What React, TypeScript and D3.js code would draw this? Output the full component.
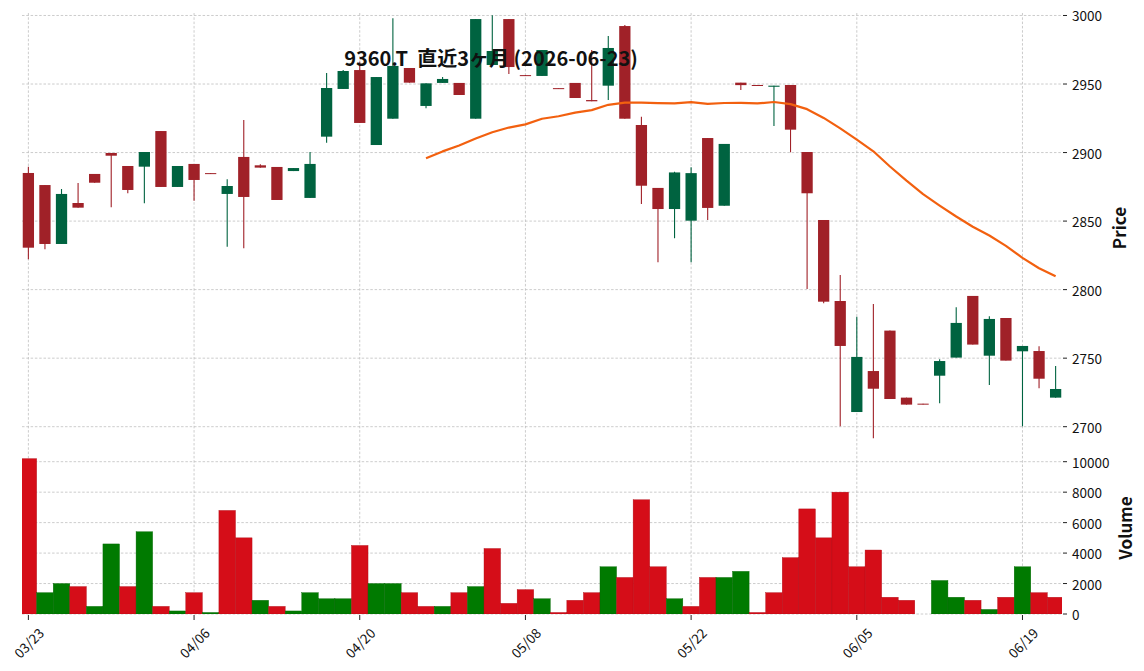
import React from 'react';
import * as d3 from 'd3';

const tickLabels = ['03/23', '04/06', '04/20', '05/08', '05/22', '06/05', '06/19'];
const tickIndex = [0, 10, 20, 30, 40, 50, 60];

const opens = [
  2885.1, 2876.3, 2833.3, 2863.2, 2884.4, 2899.7, 2890.2, 2889.7, 2915.7, 2874.9,
  2891.7, 2885.0, 2869.8, 2896.8, 2890.7, 2889.5, 2886.5, 2866.9, 2911.6, 2946.4,
  2960.2, 2905.5, 2924.7, 2961.7, 2934.0, 2950.8, 2950.8, 2924.7, 2963.9, 2997.4,
  2956.5, 2955.9, 2947.0, 2950.8, 2938.3, 2948.8, 2992.3, 2920.1, 2874.2, 2858.8,
  2850.3, 2910.6, 2861.2, 2951.0, 2949.3, 2948.0, 2949.3, 2900.4, 2850.8, 2791.7,
  2710.7, 2740.6, 2770.1, 2721.2, 2716.8, 2737.2, 2750.4, 2795.4, 2751.8, 2779.3,
  2755.0, 2755.2, 2721.2,
];
const highs = [
  2889.7, 2876.3, 2873.4, 2877.8, 2884.4, 2899.7, 2890.2, 2900.4, 2915.7, 2890.2,
  2891.7, 2885.0, 2880.5, 2923.8, 2891.4, 2889.5, 2888.7, 2900.4, 2958.0, 2960.2,
  2966.3, 2955.1, 2998.0, 2961.7, 2950.5, 2955.1, 2950.8, 2997.4, 3000.1, 2997.4,
  2956.5, 2974.8, 2947.0, 2950.8, 2974.8, 2985.0, 2993.1, 2926.2, 2874.2, 2886.0,
  2889.3, 2910.6, 2906.3, 2951.0, 2949.3, 2948.8, 2949.3, 2900.4, 2850.8, 2810.7,
  2780.3, 2789.5, 2770.1, 2721.2, 2716.8, 2749.2, 2787.1, 2795.4, 2780.5, 2779.3,
  2758.9, 2758.6, 2744.3,
];
const lows = [
  2822.1, 2829.4, 2833.3, 2859.8, 2878.0, 2860.1, 2870.3, 2863.0, 2874.9, 2874.9,
  2864.9, 2884.5, 2831.3, 2830.2, 2889.0, 2865.4, 2886.5, 2866.9, 2907.2, 2946.4,
  2921.6, 2905.5, 2924.7, 2951.0, 2932.3, 2950.8, 2942.0, 2924.7, 2963.9, 2957.3,
  2955.8, 2955.9, 2946.5, 2939.8, 2937.4, 2938.4, 2924.7, 2862.5, 2819.9, 2837.5,
  2819.9, 2850.8, 2861.2, 2945.6, 2949.0, 2919.4, 2900.2, 2800.5, 2790.0, 2700.3,
  2710.7, 2691.6, 2720.2, 2716.1, 2716.1, 2717.1, 2750.4, 2759.9, 2730.4, 2748.2,
  2700.3, 2728.0, 2721.2,
];
const closes = [
  2830.6, 2833.3, 2869.8, 2859.8, 2878.0, 2897.7, 2872.7, 2900.4, 2874.9, 2890.2,
  2880.0, 2884.5, 2875.6, 2867.6, 2889.0, 2865.4, 2888.7, 2891.7, 2947.1, 2959.5,
  2921.6, 2955.1, 2963.2, 2951.0, 2950.5, 2953.7, 2942.0, 2997.4, 2974.1, 2962.4,
  2955.8, 2974.8, 2946.5, 2939.8, 2937.4, 2976.3, 2924.7, 2875.8, 2858.8, 2885.5,
  2885.0, 2859.6, 2906.3, 2949.2, 2949.0, 2948.8, 2916.7, 2870.3, 2791.2, 2758.9,
  2750.9, 2727.7, 2720.2, 2716.1, 2716.1, 2747.9, 2775.7, 2759.9, 2778.6, 2748.2,
  2758.9, 2735.0, 2727.5,
];
const volumes = [
  10200, 1400, 2000, 1800, 500, 4600, 1800, 5400, 500, 200,
  1400, 100, 6800, 5000, 900, 500, 200, 1400, 1000, 1000,
  4500, 2000, 2000, 1400, 500, 500, 1400, 1800, 4300, 700,
  1600, 1000, 100, 900, 1400, 3100, 2400, 7500, 3100, 1000,
  500, 2400, 2400, 2800, 100, 1400, 3700, 6900, 5000, 8000,
  3100, 4200, 1100, 900, 0, 2200, 1100, 900, 300, 1100,
  3100, 1400, 1100,
];
const priceTicks = [2700, 2750, 2800, 2850, 2900, 2950, 3000];
const volumeTicks = [0, 2000, 4000, 6000, 8000, 10000];
const MAV = 25;

const FONT = '"Noto Sans CJK JP", "Noto Sans", sans-serif';
const UP = '#006340';
const DOWN = '#A02128';
const VUP = '#007a00';
const VDOWN = '#d50d18';
const GRID = '#bfbfbf';

export default function App() {
  const W = 1144, H = 671;
  const left = 22, right = 1062;
  const pTop = 13, pBottom = 443, vTop = 443, vBottom = 614;
  const n = closes.length;
  const x = d3.scaleLinear().domain([-0.385, n - 1 + 0.385]).range([left, right]);
  const yP = d3.scaleLinear().domain([2688.1, 3001.82]).range([pBottom, pTop]);
  const yV = d3.scaleLinear().domain([0, 11228]).range([vBottom, vTop]);
  const step = x(1) - x(0);
  const bodyW = step * 0.68;

  const ma: [number, number][] = [];
  for (let i = MAV - 1; i < n; i++) {
    const m = d3.mean(closes.slice(i - MAV + 1, i + 1)) as number;
    ma.push([i, m]);
  }
  const maLine = d3.line<[number, number]>().x(d => x(d[0])).y(d => yP(d[1]))(ma) || '';

  const volColor = (i: number) => {
    const ref = i === 0 ? opens[0] : closes[i - 1];
    return closes[i] >= ref ? VUP : VDOWN;
  };

  return (
    <svg width={W} height={H} style={{ position: 'absolute', left: 0, top: 0, background: '#fff' }} fontFamily={FONT}>
      <defs>
        <clipPath id="pclip"><rect x={left} y={pTop} width={right - left} height={pBottom - pTop} /></clipPath>
        <clipPath id="vclip"><rect x={left} y={vTop} width={right - left} height={vBottom - vTop} /></clipPath>
      </defs>
      <g stroke={GRID} strokeWidth={0.8} strokeDasharray="2.5,1.8">
        {tickIndex.map(i => (
          <line key={'vg' + i} x1={x(i)} x2={x(i)} y1={pTop} y2={vBottom} />
        ))}
        {priceTicks.map(p => (
          <line key={'pg' + p} x1={left} x2={right} y1={yP(p)} y2={yP(p)} />
        ))}
        {volumeTicks.map(v => (
          <line key={'vv' + v} x1={left} x2={right} y1={yV(v)} y2={yV(v)} />
        ))}
      </g>
      <g clipPath="url(#vclip)">
        {volumes.map((v, i) => v > 0 ? (
          <rect key={'v' + i} x={x(i) - step / 2} y={yV(v)} width={step} height={yV(0) - yV(v)}
            fill={volColor(i)} stroke={volColor(i) === VUP ? '#006600' : '#b00a14'} strokeWidth={0.4} />
        ) : null)}
      </g>
      <g clipPath="url(#pclip)">
        {closes.map((c, i) => {
          const o = opens[i];
          const col = c >= o ? UP : DOWN;
          const top = yP(Math.max(o, c));
          const bot = yP(Math.min(o, c));
          const hgt = Math.max(bot - top, 1);
          return (
            <g key={'c' + i}>
              <line x1={x(i)} x2={x(i)} y1={yP(highs[i])} y2={yP(lows[i])} stroke={col} strokeWidth={1.1} />
              <rect x={x(i) - bodyW / 2} y={top} width={bodyW} height={hgt} fill={col} />
            </g>
          );
        })}
        <path d={maLine} fill="none" stroke="#f2600f" strokeWidth={2.2} strokeLinejoin="round" />
      </g>
      <g fontSize={13.5} fill="#111">
        {priceTicks.map(p => (
          <g key={'pt' + p}>
            <line x1={1063} x2={1067} y1={yP(p)} y2={yP(p)} stroke="#222" strokeWidth={1} />
            <text x={1072} y={yP(p)} dominantBaseline="central">{p}</text>
          </g>
        ))}
        {volumeTicks.map(v => (
          <g key={'vt' + v}>
            <line x1={1063} x2={1067} y1={yV(v)} y2={yV(v)} stroke="#222" strokeWidth={1} />
            <text x={1072} y={yV(v)} dominantBaseline="central">{v}</text>
          </g>
        ))}
        {tickIndex.map((i, k) => (
          <g key={'xt' + i}>
            <line x1={x(i)} x2={x(i)} y1={615} y2={620} stroke="#222" strokeWidth={1} />
            <text transform={`translate(${x(i)},642.5) rotate(-45)`} textAnchor="middle" dominantBaseline="central">{tickLabels[k]}</text>
          </g>
        ))}
      </g>
      <text transform="translate(1118,228) rotate(-90)" textAnchor="middle" dominantBaseline="central" fontSize={17} fontWeight="bold" fill="#111">Price</text>
      <text transform="translate(1124,528) rotate(-90)" textAnchor="middle" dominantBaseline="central" fontSize={17} fontWeight="bold" fill="#111">Volume</text>
      <text x={491} y={57} textAnchor="middle" dominantBaseline="central" fontSize={20} fontWeight="bold" fill="#111" style={{ whiteSpace: 'pre' }}>{'9360.T  直近3ヶ月 (2026-06-23)'}</text>
    </svg>
  );
}
